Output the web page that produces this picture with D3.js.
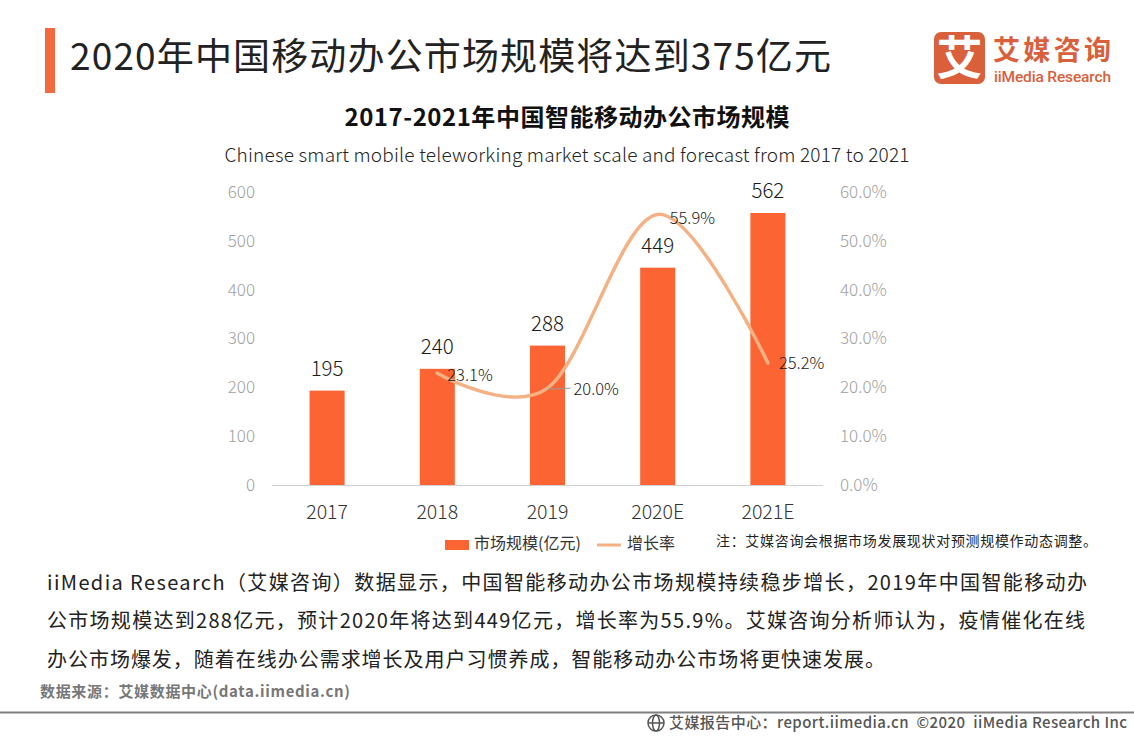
<!DOCTYPE html>
<html><head><meta charset="utf-8">
<script src="https://cdnjs.cloudflare.com/ajax/libs/d3/7.8.5/d3.min.js"></script>
<style>
html,body{margin:0;padding:0;background:#fff;overflow:hidden}
text{font-family:"Noto Sans CJK SC","Noto Sans",sans-serif}
</style></head><body><svg id="c" width="1134" height="737"></svg>
<script>
const categories=["2017","2018","2019","2020E","2021E"];
const marketScale=[195,240,288,449,562];
const growthCategories=["2018","2019","2020E","2021E"];
const growthRate=[23.1,20.0,55.9,25.2];
const leftTicks=[0,100,200,300,400,500,600];
const rightTicks=[0,10,20,30,40,50,60];
const pageTitle="2020年中国移动办公市场规模将达到375亿元";
const chartTitle="2017-2021年中国智能移动办公市场规模";
const chartSubtitle="Chinese smart mobile teleworking market scale and forecast from 2017 to 2021";
const legendNames=["市场规模(亿元)","增长率"];
const note="注：艾媒咨询会根据市场发展现状对预测规模作动态调整。";
const paragraph=["iiMedia Research（艾媒咨询）数据显示，中国智能移动办公市场规模持续稳步增长，2019年中国智能移动办","公市场规模达到288亿元，预计2020年将达到449亿元，增长率为55.9%。艾媒咨询分析师认为，疫情催化在线","办公市场爆发，随着在线办公需求增长及用户习惯养成，智能移动办公市场将更快速发展。"];
const source="数据来源：艾媒数据中心(data.iimedia.cn)";
const footer="艾媒报告中心：report.iimedia.cn  ©2020  iiMedia Research Inc";

const svg=d3.select("#c");
const BAR="#fd6433",LINE="#f4b183",INK="#1a1a1a";
function T(x,y,s,size,fill,opt={}){
  const t=svg.append("text").attr("x",x).attr("y",y).text(s).attr("font-size",size).attr("fill",fill)
   .attr("text-anchor",opt.a||"start").attr("font-weight",opt.w||300).style("white-space","pre");
  if(opt.len){t.attr("textLength",opt.len).attr("lengthAdjust","spacing");}
  return t;
}
// header
svg.append("rect").attr("x",45).attr("y",28).attr("width",10).attr("height",65).attr("fill","#f26a3d");
T(70,70,pageTitle,37,"#222",{w:400,len:761});
// logo
svg.append("rect").attr("x",934).attr("y",32).attr("width",51).attr("height",52).attr("rx",7).attr("fill","#d9603b");
T(959.5,74,"艾",46,"#fff",{a:"middle",w:700});
T(993,60,"艾媒咨询",27,"#d9603b",{w:700,len:118});
T(994,82.4,"iiMedia Research",15.5,"#d9603b",{w:500,len:117}).style("font-family","Roboto");
// chart titles
T(567,126,chartTitle,24,"#111",{a:"middle",w:700,len:445});
T(567,162,chartSubtitle,19,"#222",{a:"middle",w:300,len:685});

// scales
const x=d3.scaleBand().domain(categories).range([272,823]).paddingInner(0.682).paddingOuter(0.341);
const yAxis=d3.scaleLinear().domain([0,600]).range([485,192]);
const y=d3.scaleLinear().domain([0,600]).range([485,194.6]);
const yR=d3.scaleLinear().domain([0,60]).range([485,194.6]);
const yRAxis=d3.scaleLinear().domain([0,60]).range([485,192]);
const cx=c=>x(c)+x.bandwidth()/2;

// axes
const gx=svg.append("g").attr("transform","translate(0,485)").call(d3.axisBottom(x).tickSize(0).tickPadding(20));
gx.select(".domain").attr("stroke","#d0d0d0").attr("d","M272,0.5H823");
gx.selectAll("text").attr("font-size",19.5).attr("fill","#333").attr("font-family",'"Noto Sans CJK SC"').attr("font-weight",300);
const gl=svg.append("g").attr("transform","translate(255,0)").call(d3.axisLeft(yAxis).tickValues(leftTicks).tickSize(0).tickPadding(0));
gl.select(".domain").remove();
gl.selectAll("text").attr("font-size",17).attr("fill","#a0a0a0").attr("font-family",'"Noto Sans CJK SC"').attr("font-weight",300);
const gr=svg.append("g").attr("transform","translate(840,0)").call(d3.axisRight(yRAxis).tickValues(rightTicks).tickFormat(d=>d.toFixed(1)+"%").tickSize(0).tickPadding(0));
gr.select(".domain").remove();
gr.selectAll("text").attr("font-size",17).attr("fill","#a0a0a0").attr("font-family",'"Noto Sans CJK SC"').attr("font-weight",300);

// bars
svg.append("g").selectAll("rect").data(categories).join("rect")
 .attr("x",c=>x(c)).attr("width",x.bandwidth())
 .attr("y",(c,i)=>y(marketScale[i])).attr("height",(c,i)=>485-y(marketScale[i])).attr("fill",BAR);
svg.append("g").selectAll("text").data(categories).join("text")
 .attr("x",c=>cx(c)).attr("y",(c,i)=>y(marketScale[i])-15).attr("text-anchor","middle")
 .attr("font-size",20.5).attr("font-weight",300).attr("fill",INK).text((c,i)=>marketScale[i]);

// line
const line=d3.line().x(d=>cx(d[0])).y(d=>yR(d[1])).curve(d3.curveCatmullRom.alpha(0));
const pts=growthCategories.map((c,i)=>[c,growthRate[i]]);
svg.append("path").attr("d",line(pts)).attr("fill","none").attr("stroke",LINE).attr("stroke-width",3.5).attr("stroke-linecap","round");
const off=[[10,8],[26,7],[12,10],[11,6]];
// leader line for 20.0%
svg.append("line").attr("x1",cx("2019")).attr("x2",cx("2019")+23).attr("y1",yR(20)+1).attr("y2",yR(20)).attr("stroke","#999").attr("stroke-width",1);
svg.append("g").selectAll("text").data(pts).join("text")
 .attr("x",(d,i)=>cx(d[0])+off[i][0]).attr("y",(d,i)=>yR(d[1])+off[i][1])
 .attr("font-size",16.5).attr("font-weight",300).attr("fill",INK).text(d=>d[1].toFixed(1)+"%");

// legend
svg.append("rect").attr("x",445).attr("y",540).attr("width",24).attr("height",10).attr("fill",BAR);
T(474,549,legendNames[0],16,"#333",{w:400});
svg.append("line").attr("x1",597).attr("x2",621).attr("y1",545).attr("y2",545).attr("stroke",LINE).attr("stroke-width",3);
T(627,549,legendNames[1],16,"#333",{w:400});
T(716,546,note,14,"#222",{w:400,len:381});

// paragraph
const pos=[[47,590,1040],[47,628,1038],[47,667,838]];
paragraph.forEach((s,i)=>T(pos[i][0],pos[i][1],s,20,"#222",{w:400,len:pos[i][2]}));
T(40,697,source,15,"#777",{w:700,len:310});

// footer
svg.append("line").attr("x1",0).attr("x2",1134).attr("y1",712.5).attr("y2",712.5).attr("stroke","#808080").attr("stroke-width",2);
const g=svg.append("g").attr("fill","none").attr("stroke","#555").attr("stroke-width",1.5);
g.append("circle").attr("cx",656).attr("cy",723).attr("r",8);
g.append("ellipse").attr("cx",656).attr("cy",723).attr("rx",3.5).attr("ry",8);
g.append("line").attr("x1",648).attr("x2",664).attr("y1",723).attr("y2",723);
T(669,728,footer,15,"#555",{w:500,len:458});
</script></body></html>
